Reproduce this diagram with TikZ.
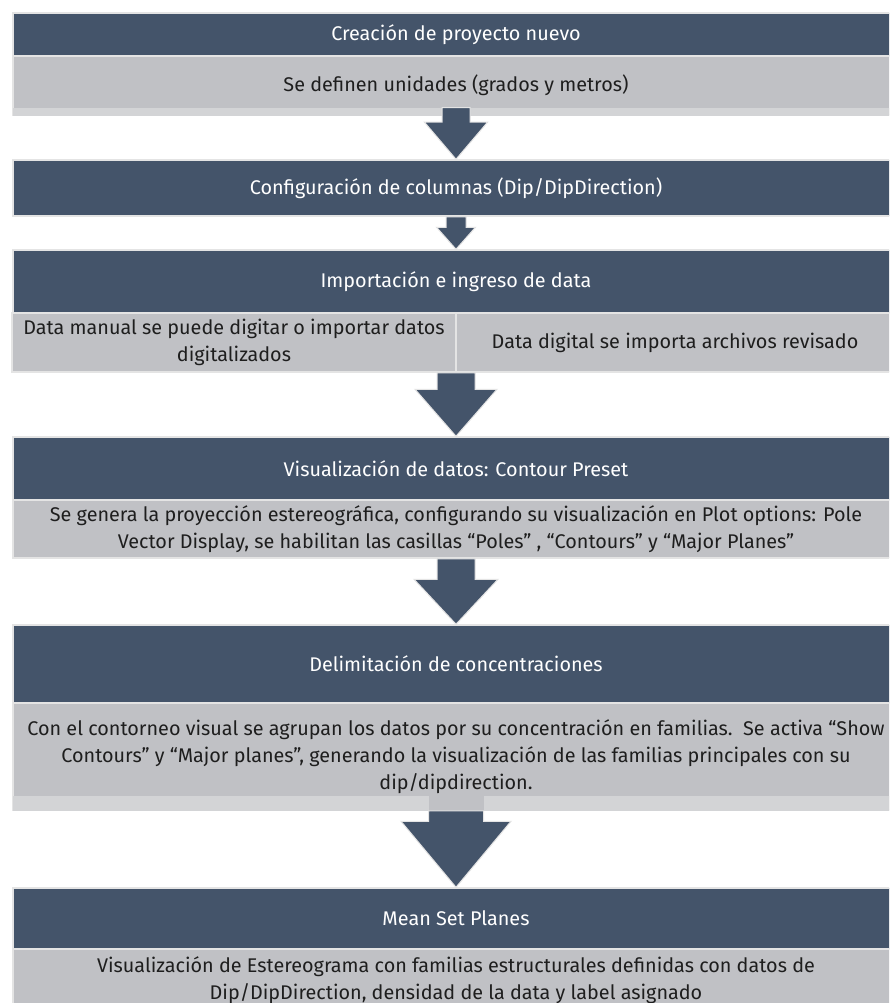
\documentclass[tikz,border=0pt]{standalone}
\usepackage{fontspec}
\setmainfont{Fira Sans}
\usetikzlibrary{calc}
\definecolor{darkbox}{HTML}{44546A}
\definecolor{graybox}{HTML}{C0C1C5}
\definecolor{stripc}{HTML}{D3D4D6}
\definecolor{edgec}{HTML}{E4E4E4}
\definecolor{bodytext}{HTML}{1E1E1E}
\tikzset{
  boxbase/.style={draw=edgec, line width=1.5pt, inner sep=0pt, align=center,
    font=\fontsize{19.8}{27}\selectfont},
  titlebox/.style={boxbase, fill=darkbox, text=white, minimum width=886},
  bodybox/.style={boxbase, fill=graybox, text=bodytext, minimum width=886},
  cellbox/.style={boxbase, fill=graybox, text=bodytext},
  blockarrow/.style={fill=darkbox, draw=edgec, line width=1pt, line join=miter},
  stripfill/.style={fill=stripc},
}
% #1 from, #2 to, #3 shaft half width, #4 head half width, #5 head length
\newcommand{\barrow}[5]{%
  \path[blockarrow] let \p1=(#1), \p2=(#2) in
    (\x2-#3pt,\y1) -- (\x2+#3pt,\y1) -- (\x2+#3pt,\y2+#5pt) -- (\x2+#4pt,\y2+#5pt)
    -- (\x2,\y2) -- (\x2-#4pt,\y2+#5pt) -- (\x2-#3pt,\y2+#5pt) -- cycle;}
\begin{document}
\begin{tikzpicture}[x=1pt,y=-1pt]
\clip (0,0) rectangle (889,1003);
\fill[white] (0,0) rectangle (889,1003);

% step 1
\node[titlebox, minimum height=43] (d1) at (456,34.5) {Creación de proyecto nuevo};
\node[bodybox, minimum height=59] (g1) at (456,85.5) {Se definen unidades (grados y metros)};
\fill[stripfill] ($(g1.south west)+(0.75,0)$) rectangle ($(g1.south east)+(0,-8)$);

% step 2
\node[titlebox, minimum height=56] (d2) at (456,188) {Configuración de columnas (Dip/DipDirection)};

% step 3
\node[titlebox, minimum height=63] (d3) at (456,281.5) {Importación e ingreso de data};
\node[cellbox, minimum width=444, minimum height=59] (g3l) at (234,342.5)
  {Data manual se puede digitar o importar datos\\digitalizados};
\node[cellbox, minimum width=438, minimum height=59] (g3r) at (675,342.5)
  {Data digital se importa archivos revisado};

% step 4
\node[titlebox, minimum height=63] (d4) at (456,468.5) {Visualización de datos: Contour Preset};
\node[bodybox, minimum height=58] (g4) at (456,529)
  {Se genera la proyección estereográfica, configurando su visualización en Plot options: Pole\\
   Vector Display, se habilitan las casillas “Poles” , “Contours” y “Major Planes”};

% step 5
\node[titlebox, minimum height=78] (d5) at (456,664) {Delimitación de concentraciones};
\node[bodybox, minimum height=107] (g5) at (456,756.5)
  {Con el contorneo visual se agrupan los datos por su concentración en familias.\ \ Se activa “Show\\
   Contours” y “Major planes”, generando la visualización de las familias principales con su\\
   dip/dipdirection.};
\fill[stripfill] ($(g5.south west)+(0.75,0)$) rectangle ($(g5.south east)+(0,-15)$);
\fill[graybox] ($(g5.south)+(-27.5,0)$) rectangle ($(g5.south)+(27.5,-15)$);

% step 6
\node[titlebox, minimum height=61] (d6) at (456,918.5) {Mean Set Planes};
\node[bodybox, minimum height=62] (g6) at (456,980)
  {Visualización de Estereograma con familias estructurales definidas con datos de\\
   Dip/DipDirection, densidad de la data y label asignado};

% arrows
\barrow{$(g1.south)+(0,-8)$}{d2.north}{14}{31.5}{37}
\barrow{d2.south}{d3.north}{10}{19.5}{22}
\barrow{g3l.south}{d4.north}{19}{41}{47}
\barrow{g4.south}{d5.north}{19}{42}{45}
\barrow{g5.south}{d6.north}{27.5}{55}{66}
\end{tikzpicture}
\end{document}
